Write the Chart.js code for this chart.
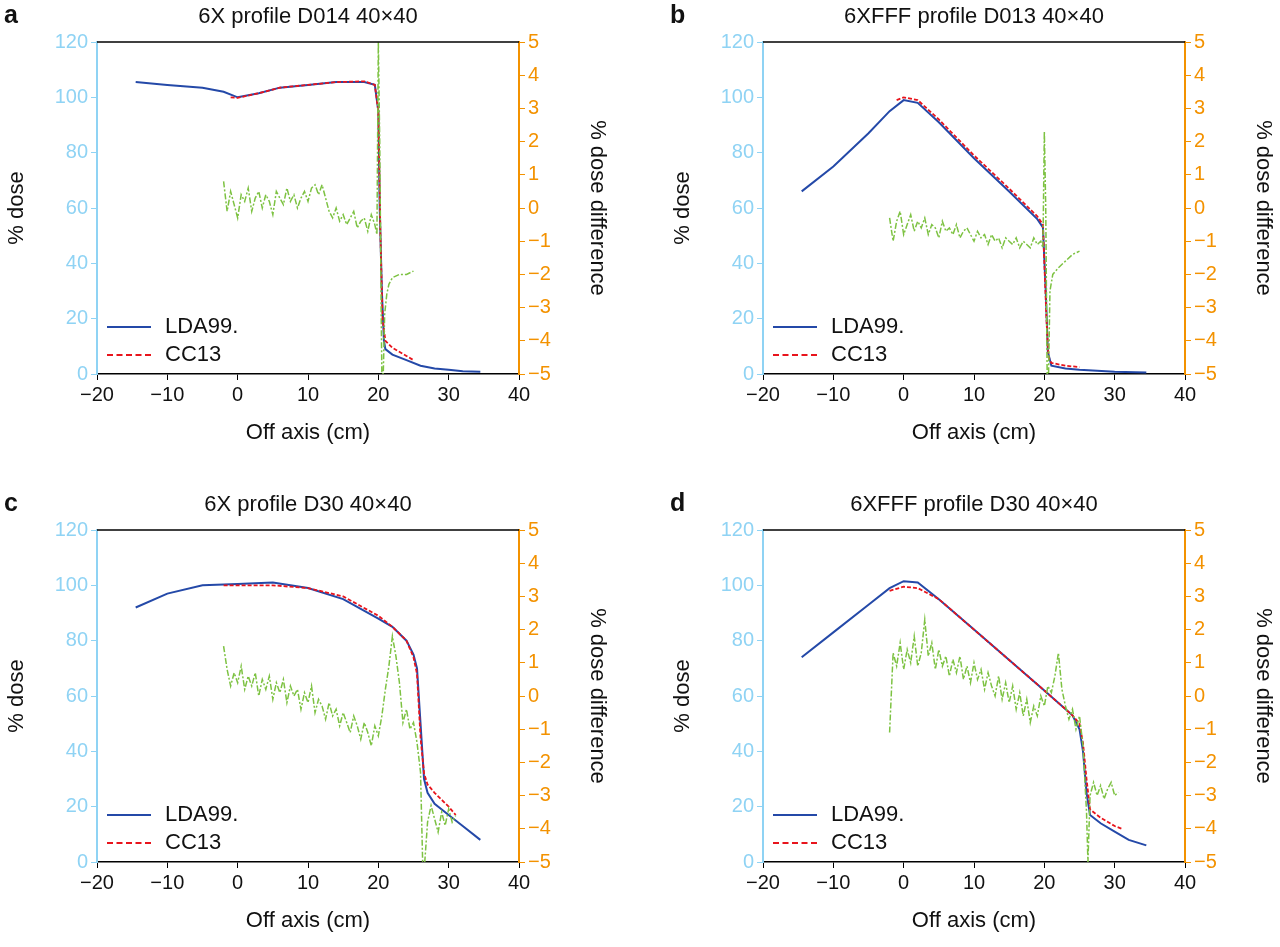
<!DOCTYPE html>
<html><head><meta charset="utf-8">
<script src="https://cdn.jsdelivr.net/npm/chart.js@4.4.1/dist/chart.umd.min.js"></script>
<style>
body{margin:0;background:#fff;font-family:"Liberation Sans",Arial,sans-serif;}
.panel{position:absolute;width:614px;height:450px;}
.panel canvas{position:absolute;left:0;top:0;}
.ttl{position:absolute;top:3px;left:97px;width:422px;text-align:center;font-size:22px;color:#111;}
.lbl{position:absolute;top:0;left:4px;font-size:25px;font-weight:bold;color:#111;}
.leg{position:absolute;left:107px;font-size:22px;color:#111;}
.leg span{display:inline-block;width:44px;vertical-align:middle;margin-right:14px;}
</style></head><body>
<script>
// panel a: 6X D014
const aBlueX = [-14.5,-10,-5,-2,0,3,6,10,14,18,19.5,20,20.2,20.5,20.8,21,22,24,26,28,30,32,34.5];
const aBlueY = [105.5,104.5,103.5,102,100,101.5,103.5,104.5,105.5,105.5,104.5,95,60,30,12,9,7,5,3,2,1.5,1,0.8];
const aRedX = [-1,0,3,6,10,14,18,19.5,20,20.3,20.6,21,22,24,25];
const aRedY = [100,99.8,101.5,103.5,104.5,105.5,105.8,104.5,95,50,20,12,9.5,6.5,5];
const aGreenX = [-2,-1.5,-1,-0.5,0,0.5,1,1.5,2,2.5,3,3.5,4,4.5,5,5.5,6,6.5,7,7.5,8,8.5,9,9.5,10,10.5,11,11.5,12,12.5,13,13.5,14,14.5,15,15.5,16,16.5,17,17.5,18,18.5,19,19.5,19.8,20,20.2,20.4,20.5,20.7,20.9,21.2,21.5,22,23,24,25];
const aGreenY = [0.8,-0.1,0.5,0.1,-0.3,0.4,0.2,0.6,-0.1,0.3,0.5,0.0,0.4,0.2,-0.2,0.5,0.3,0.1,0.6,0.2,0.4,0.0,0.3,0.5,0.2,0.6,0.7,0.4,0.7,0.3,-0.1,-0.3,0.0,-0.4,-0.2,-0.5,-0.3,-0.1,-0.6,-0.4,-0.3,-0.7,-0.2,-0.5,-0.8,5,2,-3,-5,-5,-3.2,-2.6,-2.3,-2.1,-2.0,-2.0,-1.9];

// panel b: 6XFFF D013
const bBlueX = [-14.5,-10,-5,-2,0,2,5,10,15,19,19.8,20.2,20.5,21,23,25,30,34.5];
const bBlueY = [66,75,87,95,99,98,91,78,66,56,53,30,8,3,2,1.5,0.8,0.5];
const bRedX = [-1,0,2,5,10,15,19,19.8,20.3,20.6,21,23,25];
const bRedY = [99,100,99,92,79,67,57,54,20,6,4,3,2.5];
const bGreenX = [-2,-1.5,-1,-0.5,0,0.5,1,1.5,2,2.5,3,3.5,4,4.5,5,5.5,6,6.5,7,7.5,8,8.5,9,9.5,10,10.5,11,11.5,12,12.5,13,13.5,14,14.5,15,15.5,16,16.5,17,17.5,18,18.5,19,19.5,19.8,20,20.2,20.4,20.6,20.8,21.2,22,23,24,25];
const bGreenY = [-0.3,-1.0,-0.4,-0.1,-0.8,-0.5,-0.2,-0.7,-0.4,-0.6,-0.3,-0.8,-0.5,-0.6,-0.9,-0.4,-0.7,-0.6,-0.8,-0.5,-0.9,-0.7,-0.6,-0.8,-1.0,-0.7,-0.9,-0.8,-1.1,-0.8,-1.0,-0.9,-1.2,-0.9,-1.0,-1.1,-0.9,-1.2,-1.0,-1.1,-1.2,-0.9,-1.1,-1.0,-1.2,2.3,0,-5,-5,-2.5,-2.0,-1.8,-1.6,-1.4,-1.3];

// panel c: 6X D30
const cBlueX = [-14.5,-10,-5,0,5,10,15,20,22,24,25,25.5,26,26.5,27,28,30,32,34.5];
const cBlueY = [92,97,100,100.5,101,99,95,88,85,80,75,70,50,30,25,21,17,13,8];
const cRedX = [-2,5,10,15,20,22,24,25,25.5,26,26.5,27,28,30,31];
const cRedY = [100,100,99,96,89,85,80,74,68,45,32,28,25,20,17];
const cGreenX = [-2,-1.5,-1,-0.5,0,0.5,1,1.5,2,2.5,3,3.5,4,4.5,5,5.5,6,6.5,7,7.5,8,8.5,9,9.5,10,10.5,11,11.5,12,12.5,13,13.5,14,14.5,15,15.5,16,16.5,17,17.5,18,18.5,19,19.5,20,20.5,21,21.5,22,22.5,23,23.5,24,24.5,25,25.5,26,26.3,26.6,27,27.5,28,28.5,29,29.5,30,30.5,31];
const cGreenY = [1.5,0.8,0.3,0.7,0.4,0.9,0.2,0.6,0.3,0.7,0.0,0.5,0.2,0.6,-0.1,0.4,0.1,0.5,-0.2,0.3,0.0,0.2,-0.4,0.1,-0.2,0.3,-0.5,-0.1,-0.3,-0.7,-0.2,-0.6,-0.4,-0.9,-0.5,-0.8,-1.1,-0.6,-0.9,-1.3,-0.8,-1.1,-1.5,-0.9,-1.2,-0.6,0.2,0.9,1.8,1.2,0.4,-0.8,-0.4,-1.0,-0.8,-1.4,-2.3,-5,-5,-3.8,-3.3,-3.7,-4.1,-3.5,-3.9,-3.4,-3.8,-3.6];

// panel d: 6XFFF D30
const dBlueX = [-14.5,-10,-5,-2,0,2,5,10,15,20,24,25,25.5,26,26.5,28,30,32,34.5];
const dBlueY = [74,83,93,99,101.5,101,95,84,73,62,53,48,40,25,17,14,11,8,6];
const dRedX = [-2,0,2,5,10,15,20,24,25,25.5,26,26.5,28,30,31];
const dRedY = [98,99.5,99,95,84,73,62,53,50,43,30,19,16,13,12];
const dGreenX = [-2,-1.5,-1,-0.5,0,0.5,1,1.5,2,2.5,3,3.5,4,4.5,5,5.5,6,6.5,7,7.5,8,8.5,9,9.5,10,10.5,11,11.5,12,12.5,13,13.5,14,14.5,15,15.5,16,16.5,17,17.5,18,18.5,19,19.5,20,20.5,21,21.5,22,22.5,23,23.5,24,24.5,25,25.5,26,26.2,26.5,27,27.5,28,28.5,29,29.5,30,30.5];
const dGreenY = [-1.1,1.3,0.9,1.6,0.8,1.4,1.0,1.8,0.9,1.3,2.3,1.2,1.6,0.8,1.4,0.9,1.2,0.6,1.1,0.7,1.2,0.5,0.9,0.4,1.0,0.5,0.8,0.2,0.7,0.3,0.0,0.6,-0.1,0.4,-0.2,0.3,-0.4,0.1,-0.6,-0.1,-0.8,-0.3,-0.6,0.0,-0.3,0.3,0.1,0.6,1.3,0.2,-0.3,-0.7,-0.4,-1.0,-0.6,-1.5,-3.5,-5,-3.0,-2.6,-3.0,-2.7,-3.1,-2.8,-2.6,-3.0,-2.9];

const xTicks = [-20,-10,0,10,20,30,40];
const doseTicks = [0,20,40,60,80,100,120];
const diffTicks = [-5,-4,-3,-2,-1,0,1,2,3,4,5];

const BLUE_AX = '#8fd3f4', ORANGE = '#f39200';

const topLine = {
    id: 'topLine',
    afterDraw(chart) {
        const {ctx, chartArea} = chart;
        ctx.save();
        ctx.strokeStyle = '#000';
        ctx.lineWidth = 1.5;
        ctx.beginPath();
        ctx.moveTo(chartArea.left, chartArea.top);
        ctx.lineTo(chartArea.right, chartArea.top);
        ctx.stroke();
        ctx.restore();
    }
};

function pts(xs, ys) { return xs.map((x, i) => ({x: x, y: ys[i]})); }
const minus = v => String(v).replace('-', '\u2212');
const tickFont = {size: 20, family: 'Liberation Sans'};
const titleFont = {size: 22, family: 'Liberation Sans'};

function makePanel(left, top, letter, title, bx, by, rx, ry, gx, gy) {
    const div = document.createElement('div');
    div.className = 'panel';
    div.style.left = left + 'px';
    div.style.top = top + 'px';
    div.innerHTML = `<canvas width="614" height="450"></canvas><div class="lbl">${letter}</div><div class="ttl">${title}</div>
      <div class="leg" style="top:313px"><span style="border-top:2px solid #2449a8"></span>LDA99.</div>
      <div class="leg" style="top:341px"><span style="border-top:2px dashed #e8141c"></span>CC13</div>`;
    document.body.appendChild(div);

    new Chart(div.querySelector('canvas'), {
        type: 'line',
        data: {
            datasets: [
                {data: pts(gx, gy), yAxisID: 'y2', borderColor: '#7dc242', borderWidth: 1.5, borderDash: [6, 2, 2, 2]},
                {data: pts(rx, ry), yAxisID: 'y', borderColor: '#e8141c', borderWidth: 1.8, borderDash: [4, 2]},
                {data: pts(bx, by), yAxisID: 'y', borderColor: '#2449a8', borderWidth: 2}
            ]
        },
        options: {
            responsive: false,
            animation: false,
            events: [],
            layout: {padding: {top: 42}},
            elements: {point: {radius: 0}, line: {tension: 0}},
            plugins: {legend: {display: false}, tooltip: {enabled: false}},
            scales: {
                x: {
                    type: 'linear', min: -20, max: 40,
                    afterBuildTicks: s => { s.ticks = xTicks.map(v => ({value: v})); },
                    afterFit: s => { s.height = 76; },
                    grid: {drawOnChartArea: false, color: '#000', tickLength: 6},
                    border: {color: '#000', width: 1.5},
                    ticks: {color: '#111', font: tickFont, callback: minus},
                    title: {display: true, text: 'Off axis (cm)', color: '#111', font: titleFont}
                },
                y: {
                    position: 'left', min: 0, max: 120,
                    afterBuildTicks: s => { s.ticks = doseTicks.map(v => ({value: v})); },
                    afterFit: s => { s.width = 97; },
                    grid: {drawOnChartArea: false, color: BLUE_AX, tickLength: 6},
                    border: {color: BLUE_AX, width: 2},
                    ticks: {color: BLUE_AX, font: tickFont},
                    title: {display: true, text: '% dose', color: '#111', font: titleFont}
                },
                y2: {
                    position: 'right', min: -5, max: 5,
                    afterBuildTicks: s => { s.ticks = diffTicks.map(v => ({value: v})); },
                    afterFit: s => { s.width = 95; },
                    grid: {drawOnChartArea: false, color: ORANGE, tickLength: 6},
                    border: {color: ORANGE, width: 2},
                    ticks: {color: ORANGE, font: tickFont, callback: minus},
                    title: {display: true, text: '% dose difference', color: '#111', font: titleFont}
                }
            }
        },
        plugins: [topLine]
    });
}

makePanel(0, 0, 'a', '6X profile D014 40\u00d740', aBlueX, aBlueY, aRedX, aRedY, aGreenX, aGreenY);
makePanel(666, 0, 'b', '6XFFF profile D013 40\u00d740', bBlueX, bBlueY, bRedX, bRedY, bGreenX, bGreenY);
makePanel(0, 488, 'c', '6X profile D30 40\u00d740', cBlueX, cBlueY, cRedX, cRedY, cGreenX, cGreenY);
makePanel(666, 488, 'd', '6XFFF profile D30 40\u00d740', dBlueX, dBlueY, dRedX, dRedY, dGreenX, dGreenY);
</script>
</body></html>
